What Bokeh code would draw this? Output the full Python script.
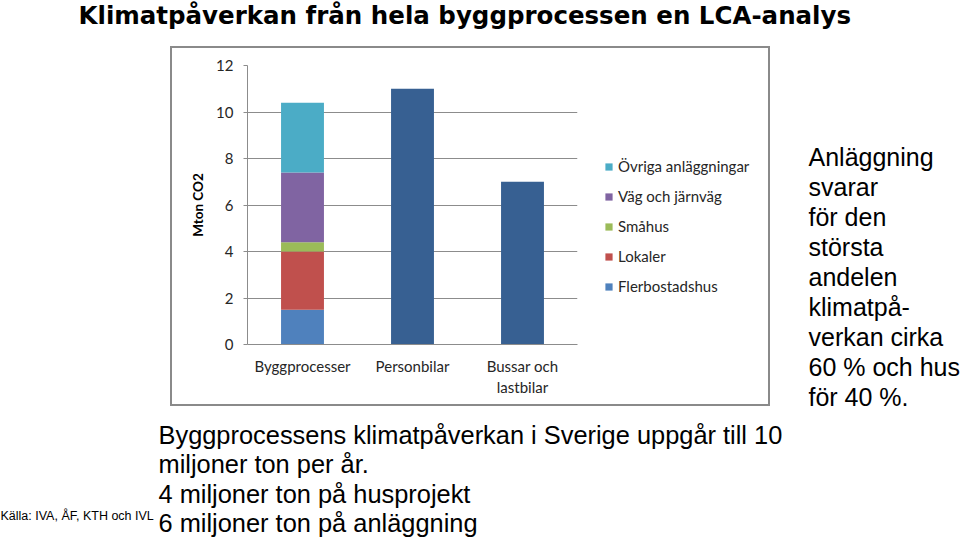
from bokeh.plotting import figure
from bokeh.layouts import column, row
from bokeh.models import (FactorRange, Range1d, FixedTicker, Label, Legend,
                          LegendItem, ColumnDataSource, Spacer, Plot)
from bokeh.embed import file_html
from bokeh.resources import INLINE

# ---------------- data ----------------
categories = ["Byggprocesser", "Personbilar", "Bussar och\nlastbilar"]
bygg_parts = ["Flerbostadshus", "Lokaler", "Småhus", "Väg och järnväg", "Övriga anläggningar"]
bygg_values = [1.5, 2.5, 0.4, 3.0, 3.0]
bygg_colors = ["#4F81BD", "#C0504D", "#9BBB59", "#8064A2", "#4BACC6"]
transport_cats = ["Personbilar", "Bussar och\nlastbilar"]
transport_values = [11.0, 7.0]
y_ticks = [0, 2, 4, 6, 8, 10, 12]

title_text = "Klimatpåverkan från hela byggprocessen en LCA-analys"
right_lines = ["Anläggning", "svarar", "för den", "största", "andelen",
               "klimatpå-", "verkan cirka", "60 % och hus", "för 40 %."]
bottom_lines = ["Byggprocessens klimatpåverkan  i Sverige uppgår till 10",
                "miljoner ton per år.",
                "4 miljoner ton på husprojekt",
                "6 miljoner ton på anläggning"]
source_text = "Källa: IVA, ÅF, KTH och IVL"

HAS_FRAME_ALIGN = "frame_align" in Plot.properties()

def no_align(f):
    if HAS_FRAME_ALIGN:
        f.frame_align = False
    return f

def bare_fig(w, h, x_range=None, y_range=None):
    f = figure(width=w, height=h, output_backend="svg", toolbar_location=None,
               x_axis_type=None, y_axis_type=None,
               x_range=x_range if x_range is not None else Range1d(0, w),
               y_range=y_range if y_range is not None else Range1d(0, h),
               min_border=0)
    f.outline_line_color = None
    f.grid.visible = False
    f.background_fill_color = "white"
    f.border_fill_color = "white"
    return no_align(f)

def page_label(f, ox, oy, h, X, Y, text, size, bold=False, font="Liberation Sans"):
    f.add_layout(Label(x=X - ox, y=h - (Y - oy), x_units="screen", y_units="screen",
                       text=text, text_font=font, text_font_size=size,
                       text_font_style="bold" if bold else "normal",
                       text_color="#000000", text_baseline="middle",
                       text_align="left"))

# ---------------- geometry (page pixels) ----------------
BX, BY, BW, BH_ = 170, 46, 600, 360      # chart box incl. 2px border
IX, IY = BX + 2, BY + 2                  # inside the border
IH = BH_ - 4
FL, FR, FT, FB = 247, 577, 65, 344       # plot-area edges
SPLIT = 590                              # chart | legend split inside the box
LEG_X, LEG_BOTTOM = 604, 296             # legend block left / bottom
MID = 416                                # where the bottom text band starts

chart_font = "Lato"
txt_col = "#262626"

# ---------------- chart ----------------
p = figure(width=SPLIT - IX, height=IH, output_backend="svg", toolbar_location=None,
           x_range=FactorRange(*categories, range_padding=0),
           y_range=Range1d(0, 12),
           min_border_left=FL - IX, min_border_right=SPLIT - FR,
           min_border_top=FT - IY, min_border_bottom=IY + IH - FB)
no_align(p)
p.outline_line_color = None
p.background_fill_color = "white"
p.border_fill_color = "white"

src = ColumnDataSource(data=dict(cat=[categories[0]],
                                 **{n: [v] for n, v in zip(bygg_parts, bygg_values)}))
p.vbar_stack(bygg_parts, x="cat", width=0.39, color=bygg_colors, source=src,
             line_color=None)
p.vbar(x=transport_cats, top=transport_values, width=0.39, color="#376092",
       line_color=None)

p.yaxis.ticker = FixedTicker(ticks=y_ticks)
p.ygrid.ticker = FixedTicker(ticks=y_ticks)
p.ygrid.grid_line_color = "#8c8c8c"
p.xgrid.grid_line_color = None
for ax in (p.xaxis[0], p.yaxis[0]):
    ax.axis_line_color = "#8c8c8c"
    ax.major_tick_line_color = "#8c8c8c"
    ax.minor_tick_line_color = None
    ax.major_label_text_font = chart_font
    ax.major_label_text_font_size = "15px"
    ax.major_label_text_color = txt_col
p.yaxis.major_tick_out = 4
p.yaxis.major_tick_in = 0
p.yaxis.major_label_standoff = 10
p.yaxis.axis_label = "Mton CO2"
p.yaxis.axis_label_text_font = chart_font
p.yaxis.axis_label_text_font_style = "bold"
p.yaxis.axis_label_text_font_size = "13.5px"
p.yaxis.axis_label_text_color = "#000000"
p.yaxis.axis_label_standoff = 7
p.xaxis.major_tick_out = 0
p.xaxis.major_tick_in = 0
p.xaxis.major_label_standoff = 12

# ---------------- legend (own panel inside the box) ----------------
# same stacked data; its value range lies above the view, so only the legend swatches show
LW = IX + BW - 4 - SPLIT
lf = bare_fig(LW, IH, x_range=FactorRange(*categories),
              y_range=Range1d(y_ticks[-1] + 1, y_ticks[-1] + 2))
swatches = lf.vbar_stack(bygg_parts, x="cat", width=0.39, color=bygg_colors,
                         source=src, line_color=None)
items = [LegendItem(label=n, renderers=[r]) for n, r in zip(bygg_parts, swatches)][::-1]
leg = Legend(items=items, location=(LEG_X - SPLIT, IY + IH - LEG_BOTTOM))
leg.border_line_color = None
leg.background_fill_alpha = 0
leg.padding = 0
leg.margin = 0
leg.spacing = 10
leg.glyph_width = 9
leg.glyph_height = 9
leg.label_standoff = 5
leg.label_height = 20
leg.label_text_font = chart_font
leg.label_text_font_size = "15px"
leg.label_text_color = txt_col
lf.add_layout(leg)

box = row(p, lf, spacing=0,
          styles={"border": "2px solid #8a8a8a", "box-sizing": "content-box"})

# ---------------- page texts ----------------
title_fig = bare_fig(960, BY)
page_label(title_fig, 0, 0, BY, 78, 14.5, title_text, "24.5px", bold=True,
           font="DejaVu Sans")

RW = 960 - BX - BW
RH = MID - BY
right_fig = bare_fig(RW, RH)
for i, line in enumerate(right_lines):
    page_label(right_fig, BX + BW, BY, RH, 808, 156 + 30.1 * i, line, "25px")

BOT = 538 - MID
bottom_fig = bare_fig(960, BOT)
for i, line in enumerate(bottom_lines):
    page_label(bottom_fig, 0, MID, BOT, 158, 434 + 29.6 * i, line, "25.4px")
page_label(bottom_fig, 0, MID, BOT, 0, 515, source_text, "12.5px")

left_part = column(row(Spacer(width=BX, height=BH_), box, spacing=0),
                   Spacer(width=BX + BW, height=MID - BY - BH_), spacing=0)

page = column(title_fig,
              row(left_part, right_fig, spacing=0),
              bottom_fig, spacing=0)

open("out.html", "w").write(file_html(page, INLINE))
